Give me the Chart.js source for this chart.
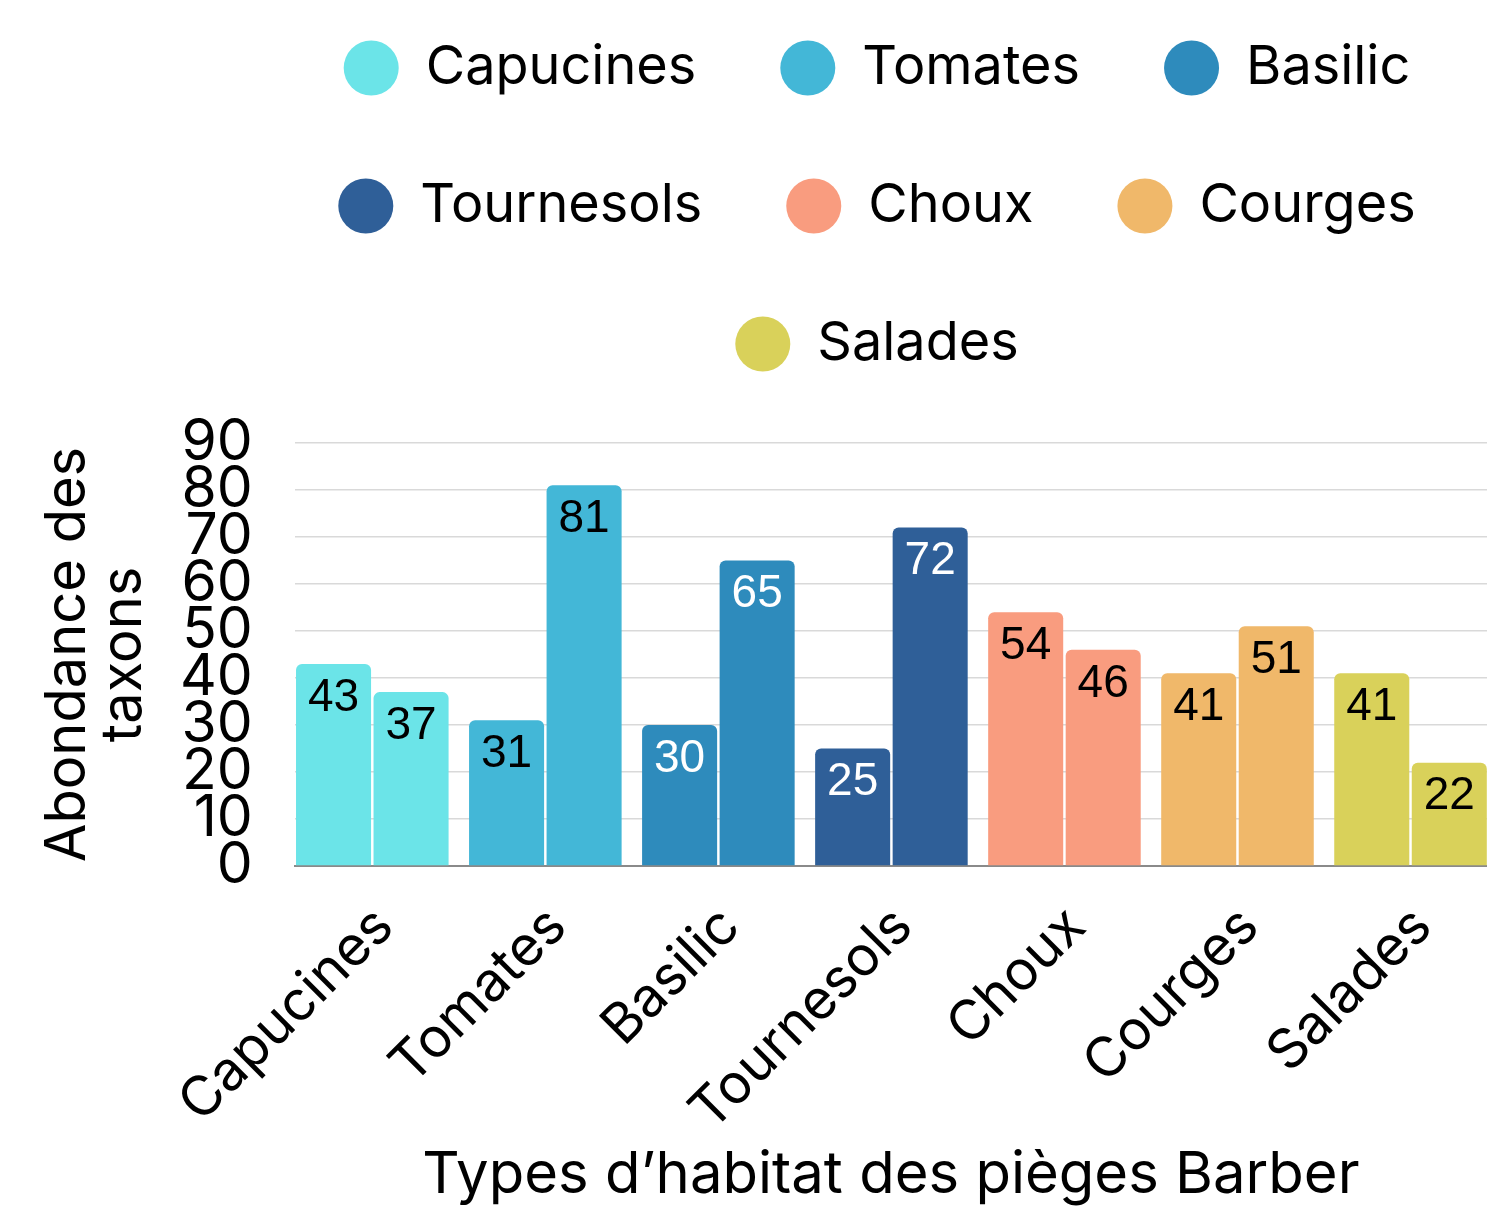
<!DOCTYPE html>
<html lang="fr">
<head>
<meta charset="utf-8">
<title>Abondance des taxons</title>
<script src="https://cdn.jsdelivr.net/npm/chart.js@4.4.1/dist/chart.umd.min.js"></script>
<style>
  html, body { margin: 0; padding: 0; background: #fff; }
  #chart { display: block; }
</style>
</head>
<body>
<canvas id="chart" width="1487" height="1212"></canvas>
<script>
// habitats (one legend entry each) and the two values shown per habitat
const habitats = ['Capucines', 'Tomates', 'Basilic', 'Tournesols', 'Choux', 'Courges', 'Salades'];
const firstValues = [43, 31, 30, 25, 54, 41, 41];
const secondValues = [37, 81, 65, 72, 46, 51, 22];
const yTicks = [0, 10, 20, 30, 40, 50, 60, 70, 80, 90];

const habitatColors = ['#6be4e8', '#43b7d7', '#2e8bbc', '#2f5f98', '#f99c7f', '#f0b86a', '#d9d15a'];
const valueColors = ['#000', '#000', '#fff', '#fff', '#000', '#000', '#000'];

Chart.defaults.font.family = 'Inter, "Noto Sans", sans-serif';
Chart.defaults.color = '#000';

// two bars per habitat, each bar only has a value at its own habitat
const datasets = [];
habitats.forEach((name, i) => {
    [firstValues, secondValues].forEach(values => {
        datasets.push({
            label: name,
            data: habitats.map((_, j) => (j === i ? values[i] : null)),
            backgroundColor: habitatColors[i],
            valueColor: valueColors[i],
            borderRadius: 6,
            borderSkipped: 'start',
            categoryPercentage: 0.896,
            barPercentage: 0.968,
            skipNull: true
        });
    });
});

// numbers written inside the top of every bar
const barValues = {
    id: 'barValues',
    afterDatasetsDraw(chart) {
        const ctx = chart.ctx;
        ctx.save();
        ctx.font = '46px "Liberation Sans", Arial, sans-serif';
        ctx.textAlign = 'center';
        ctx.textBaseline = 'middle';
        chart.data.datasets.forEach((ds, i) => {
            chart.getDatasetMeta(i).data.forEach((bar, j) => {
                const v = ds.data[j];
                if (v === null || v === undefined) return;
                ctx.fillStyle = ds.valueColor;
                ctx.fillText(String(v), bar.x, bar.y + 34);
            });
        });
        ctx.restore();
    }
};

// move the legend rows so they sit centred over the plot, near the top
const legendPlacement = {
    id: 'legendPlacement',
    afterLayout(chart) {
        chart.legend.left = 167;
        chart.legend.right = 1587;
        chart.legend.top = -43;
    }
};

new Chart(document.getElementById('chart'), {
    type: 'bar',
    data: { labels: habitats, datasets: datasets },
    plugins: [barValues, legendPlacement],
    options: {
        responsive: false,
        animation: false,
        layout: { padding: { top: 19, left: 40, right: 0, bottom: 7 } },
        plugins: {
            tooltip: { enabled: false },
            legend: {
                position: 'top',
                fullSize: true,
                labels: {
                    filter: item => item.datasetIndex % 2 === 0,
                    usePointStyle: true,
                    pointStyle: 'circle',
                    boxHeight: 39,
                    pointStyleWidth: 55,
                    padding: 84,
                    color: '#000',
                    font: { size: 54 }
                }
            }
        },
        scales: {
            x: {
                afterBuildTicks: scale => {
                    // groups touch the plot edges
                    scale._startValue = -0.448;
                    scale._valueRange = 6.89;
                },
                grid: { display: false },
                border: { display: true, color: '#8a8a8a', width: 2 },
                ticks: {
                    autoSkip: false,
                    minRotation: 45,
                    maxRotation: 45,
                    padding: 24,
                    labelOffset: 12,
                    color: '#000',
                    font: { size: 55, lineHeight: 1 }
                },
                title: {
                    display: true,
                    text: 'Types d’habitat des pièges Barber',
                    color: '#000',
                    font: { size: 58, lineHeight: 1 },
                    padding: { top: -17, bottom: 0 }
                }
            },
            y: {
                min: 0,
                max: 90,
                afterBuildTicks: scale => {
                    scale.ticks = yTicks.map(v => ({ value: v }));
                },
                grid: { color: '#d9d9d9', lineWidth: 1.5, drawTicks: false },
                border: { display: false },
                ticks: {
                    autoSkip: false,
                    padding: 42,
                    color: '#000',
                    font: { size: 57, lineHeight: 1 }
                },
                title: {
                    display: true,
                    text: ['Abondance des', 'taxons'],
                    color: '#000',
                    font: { size: 56, lineHeight: 1 },
                    padding: { top: 0, bottom: -14 }
                }
            }
        }
    }
});
</script>
</body>
</html>
